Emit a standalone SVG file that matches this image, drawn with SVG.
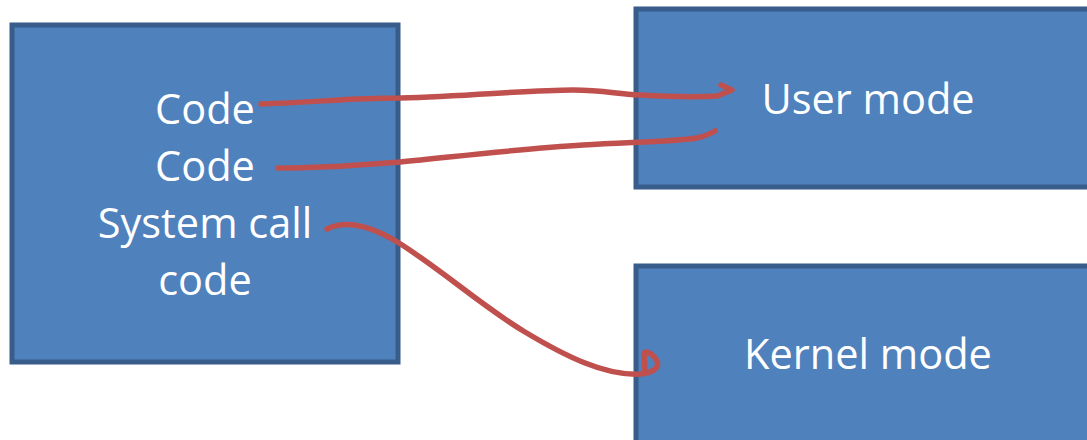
<svg xmlns="http://www.w3.org/2000/svg" width="1087" height="440" viewBox="0 0 1087 440">
  <style>
    .box { fill: #4f81bd; stroke: #385d8a; stroke-width: 5; }
    .lbl { fill: #ffffff; font-family: "Open Sans", "Noto Sans", "Liberation Sans", sans-serif; font-size: 41.5px; text-anchor: middle; }
    .wire { fill: none; stroke: #c0504d; stroke-width: 5.5; stroke-linecap: round; stroke-linejoin: round; }
  </style>
  <rect width="1087" height="440" fill="#ffffff"/>

  <g id="program">
    <rect class="box" x="12" y="25" width="386" height="337"/>
    <text class="lbl" x="205" y="124">Code</text>
    <text class="lbl" x="205" y="181">Code</text>
    <text class="lbl" x="205" y="238">System call</text>
    <text class="lbl" x="205" y="295">code</text>
  </g>

  <g id="user-mode">
    <rect class="box" x="636" y="9" width="460" height="178"/>
    <text class="lbl" x="868" y="114">User mode</text>
  </g>

  <g id="kernel-mode">
    <rect class="box" x="636" y="266" width="460" height="190"/>
    <text class="lbl" x="868" y="369">Kernel mode</text>
  </g>

  <g id="connectors">
    <!-- Code -> User mode, with a hooked head -->
    <path class="wire" d="M261,104 C320,102 350,98 400,98 C470,96 530,90 573,90 C605,90 615,94 640,95 C675,97 700,97 717,96 L732,90 L721,85"/>
    <!-- Code -> User mode -->
    <path class="wire" d="M278,168 C330,168 360,165 400,162 C470,155 530,148 583,145 C630,142 670,142 697,138 C705,136 710,134 715,131"/>
    <!-- System call code -> Kernel mode, ending in a small loop -->
    <path class="wire" d="M327,229 C345,220 368,224 399,243 C445,272 480,305 525,332 C565,356 605,376 640,374 C652,373 660,368 657,361 C654,355 647,350 644,353 L645,372"/>
  </g>
</svg>
